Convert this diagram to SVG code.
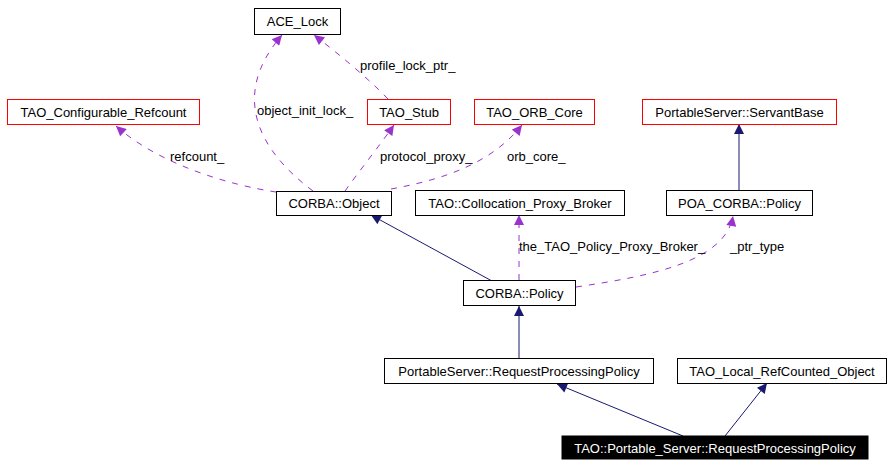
<svg xmlns="http://www.w3.org/2000/svg" width="895" height="467" viewBox="0 0 895 467">
<style>
text{font-family:"Liberation Sans",Arial,sans-serif;font-size:13px;fill:#000}
.n{text-anchor:middle}
.b{fill:#fff;stroke:#000;stroke-width:1}
.r{fill:#fff;stroke:#ff0000;stroke-width:1}
.k{fill:#000;stroke:#000}
.w{fill:#fff}
.u{fill:none;stroke:#9a32cd;stroke-width:1;stroke-dasharray:6,7}
.s{fill:none;stroke:#191970;stroke-width:1}
</style>
<defs>
<marker id="ap" viewBox="0 0 10 10" refX="10" refY="5" markerWidth="11" markerHeight="10" markerUnits="userSpaceOnUse" orient="auto"><path d="M0,0 L10,5 L0,10 z" fill="#9a32cd"/></marker>
<marker id="as" viewBox="0 0 10 10" refX="10" refY="5" markerWidth="11" markerHeight="10" markerUnits="userSpaceOnUse" orient="auto"><path d="M0,0 L10,5 L0,10 z" fill="#191970"/></marker>
</defs>
<rect width="895" height="467" fill="#fff"/>
<g id="connectors">
<path class="u" d="M276,192 C230,185 160,165 116,126" marker-end="url(#ap)"/>
<path class="u" d="M313,191 C258,150 230,95 282,35" marker-end="url(#ap)"/>
<path class="u" d="M345,191 C360,170 380,145 394,125" marker-end="url(#ap)"/>
<path class="u" d="M388,99 C370,80 340,55 314,35" marker-end="url(#ap)"/>
<path class="u" d="M391,189 C440,180 490,165 522,125" marker-end="url(#ap)"/>
<path class="u" d="M519,280 L519,215" marker-end="url(#ap)"/>
<path class="u" d="M576,287 C650,276 725,262 733,216" marker-end="url(#ap)"/>
<path class="s" d="M739,190 L739,124" marker-end="url(#as)"/>
<path class="s" d="M492,281 L371,215" marker-end="url(#as)"/>
<path class="s" d="M519,358 L519,306" marker-end="url(#as)"/>
<path class="s" d="M683,436 L557,384" marker-end="url(#as)"/>
<path class="s" d="M725,436 L767,383" marker-end="url(#as)"/>
<text x="170" y="161">refcount_</text>
<text x="257" y="115">object_init_lock_</text>
<text x="380" y="161">protocol_proxy_</text>
<text x="360" y="70">profile_lock_ptr_</text>
<text x="507" y="161">orb_core_</text>
<text x="519" y="251">the_TAO_Policy_Proxy_Broker_</text>
<text x="730" y="251">_ptr_type</text>
</g>
<g id="ACE_Lock"><rect class="b" x="254.5" y="8.5" width="86" height="26"/><text class="n" x="297.5" y="26">ACE_Lock</text></g>
<g id="TAO_Configurable_Refcount"><rect class="r" x="7.5" y="99.5" width="192" height="25"/><text class="n" x="103.5" y="116.5">TAO_Configurable_Refcount</text></g>
<g id="TAO_Stub"><rect class="r" x="367.5" y="99.5" width="83" height="25"/><text class="n" x="409" y="116.5">TAO_Stub</text></g>
<g id="TAO_ORB_Core"><rect class="r" x="474.5" y="99.5" width="120" height="25"/><text class="n" x="534.5" y="116.5">TAO_ORB_Core</text></g>
<g id="PortableServer_ServantBase"><rect class="r" x="642.5" y="99.5" width="194" height="25"/><text class="n" x="739.5" y="116.5">PortableServer::ServantBase</text></g>
<g id="CORBA_Object"><rect class="b" x="276.5" y="191.5" width="115" height="24"/><text class="n" x="334" y="208">CORBA::Object</text></g>
<g id="TAO_Collocation_Proxy_Broker"><rect class="b" x="415.5" y="190.5" width="209" height="25"/><text class="n" x="520" y="207.5">TAO::Collocation_Proxy_Broker</text></g>
<g id="POA_CORBA_Policy"><rect class="b" x="666.5" y="190.5" width="146" height="25"/><text class="n" x="739.5" y="207.5">POA_CORBA::Policy</text></g>
<g id="CORBA_Policy"><rect class="b" x="463.5" y="280.5" width="112" height="25"/><text class="n" x="519.5" y="297.5">CORBA::Policy</text></g>
<g id="PortableServer_RequestProcessingPolicy"><rect class="b" x="384.5" y="358.5" width="269" height="25"/><text class="n" x="519" y="375.5">PortableServer::RequestProcessingPolicy</text></g>
<g id="TAO_Local_RefCounted_Object"><rect class="b" x="677.5" y="358.5" width="209" height="25"/><text class="n" x="782" y="375.5">TAO_Local_RefCounted_Object</text></g>
<g id="TAO_Portable_Server_RequestProcessingPolicy"><rect class="k" x="562" y="436" width="306" height="23"/><text class="n w" x="715" y="452.5">TAO::Portable_Server::RequestProcessingPolicy</text></g>
</svg>
